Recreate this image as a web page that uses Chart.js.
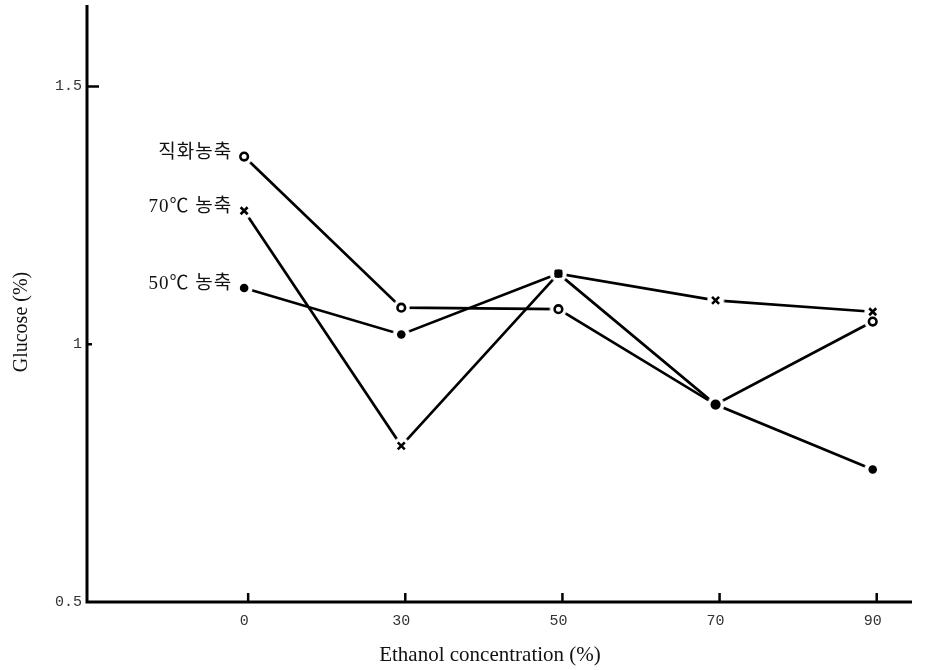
<!DOCTYPE html>
<html>
<head>
<meta charset="utf-8">
<script src="https://cdn.jsdelivr.net/npm/chart.js@4.4.1/dist/chart.umd.min.js"></script>
<style>
html,body{margin:0;padding:0;background:#fff;}
#wrap{width:929px;height:670px;position:relative;}
</style>
</head>
<body>
<div id="wrap"><canvas id="c" width="929" height="670"></canvas></div>
<script>
// ---- data ----
const categories = ['0', '30', '50', '70', '90'];
const seriesNames = ['직화농축', '70℃ 농축', '50℃ 농축'];
const directHeat = [1.364, 1.071, 1.068, 0.883, 1.044];
const conc70 = [1.259, 0.803, 1.137, 1.085, 1.063];
const conc50 = [1.109, 1.019, 1.137, 0.883, 0.757];
const yTickValues = [0.5, 1, 1.5];
const yTickLabels = ['0.5', '1', '1.5'];
const xTitle = 'Ethanol concentration (%)';
const yTitle = 'Glucose (%)';
const markerKinds = ['circle', 'cross', 'dot'];

// white halo image: lines stop short of the markers
function makeHalo() {
  const s = 18, c = document.createElement('canvas');
  c.width = s; c.height = s;
  const g = c.getContext('2d');
  g.fillStyle = '#fff';
  g.beginPath(); g.arc(s/2, s/2, 8.5, 0, Math.PI*2); g.fill();
  return c;
}
const halo = makeHalo();

function drawMarker(g, kind, x, y) {
  g.strokeStyle = '#000'; g.fillStyle = '#000';
  if (kind === 'circle') {
    g.lineWidth = 2.6;
    g.beginPath(); g.arc(x, y, 3.8, 0, Math.PI*2); g.stroke();
  } else if (kind === 'cross') {
    g.lineWidth = 2.6;
    g.beginPath();
    g.moveTo(x-3.5, y-3.5); g.lineTo(x+3.5, y+3.5);
    g.moveTo(x+3.5, y-3.5); g.lineTo(x-3.5, y+3.5);
    g.stroke();
  } else {
    g.beginPath(); g.arc(x, y, 4.3, 0, Math.PI*2); g.fill();
  }
}

const toPts = arr => arr.map((v, i) => ({x: i, y: v}));

const datasets = [
  {label: seriesNames[0], data: toPts(directHeat)},
  {label: seriesNames[1], data: toPts(conc70)},
  {label: seriesNames[2], data: toPts(conc50)}
].map(d => Object.assign(d, {
  borderColor: '#000', borderWidth: 2.7, tension: 0, fill: false,
  pointStyle: halo, pointRadius: 9, pointHoverRadius: 9
}));

const decor = {
  id: 'decor',
  afterDatasetsDraw(chart) {
    const ctx = chart.ctx;
    ctx.save();
    // markers: circle first, then dot, then cross on top
    [0, 2, 1].forEach(di => {
      chart.getDatasetMeta(di).data.forEach(pt => drawMarker(ctx, markerKinds[di], pt.x, pt.y));
    });
    ctx.restore();
  },
  afterDraw(chart) {
    const ctx = chart.ctx, xs = chart.scales.x, ys = chart.scales.y, a = chart.chartArea;
    ctx.save();
    ctx.strokeStyle = '#000';
    ctx.lineWidth = 3;
    ctx.beginPath();
    ctx.moveTo(a.left, a.top - 9); ctx.lineTo(a.left, a.bottom + 1.5);
    ctx.moveTo(a.left - 1.5, a.bottom); ctx.lineTo(a.right, a.bottom);
    ctx.stroke();
    // x ticks (upward)
    ctx.lineWidth = 2.5;
    categories.forEach((c, i) => {
      const px = xs.getPixelForValue(i) + 4;
      ctx.beginPath(); ctx.moveTo(px, a.bottom); ctx.lineTo(px, a.bottom - 9); ctx.stroke();
    });
    // y ticks (inward)
    ctx.beginPath();
    let py = ys.getPixelForValue(1.5);
    ctx.moveTo(a.left, py); ctx.lineTo(a.left + 12, py);
    py = ys.getPixelForValue(1);
    ctx.moveTo(a.left, py); ctx.lineTo(a.left + 5, py);
    ctx.stroke();

    // axis titles
    ctx.fillStyle = '#111';
    ctx.font = '21px "Liberation Serif", serif';
    ctx.textAlign = 'center';
    ctx.textBaseline = 'middle';
    ctx.fillText(xTitle, 490, 655);
    ctx.save();
    ctx.translate(22, 322);
    ctx.rotate(-Math.PI / 2);
    ctx.font = '20px "Liberation Serif", serif';
    ctx.fillText(yTitle, 0, 0);
    ctx.restore();

    // series labels at first point
    ctx.font = '19px "Liberation Serif", "Noto Sans CJK KR", serif';
    ctx.textAlign = 'right';
    if ('letterSpacing' in ctx) ctx.letterSpacing = '1px';
    chart.data.datasets.forEach(ds => {
      const x0 = xs.getPixelForValue(ds.data[0].x) - 12;
      const y0 = ys.getPixelForValue(ds.data[0].y) - 4;
      ctx.fillText(ds.label, x0, y0);
    });
    ctx.restore();
  }
};

new Chart(document.getElementById('c'), {
  type: 'line',
  data: {datasets},
  plugins: [decor],
  options: {
    responsive: false,
    animation: false,
    events: [],
    layout: {autoPadding: false, padding: {top: 5, right: 17, left: 0, bottom: 0}},
    plugins: {legend: {display: false}, tooltip: {enabled: false}},
    scales: {
      x: {
        type: 'linear',
        min: -1, max: 4.25,
        afterBuildTicks: s => { s.ticks = categories.map((c, i) => ({value: i})); },
        afterFit: s => { s.height = 68; },
        border: {display: false},
        grid: {display: false, drawTicks: false},
        ticks: {
          padding: 10,
          color: '#333',
          font: {family: '"Liberation Mono", monospace', size: 15},
          callback: v => categories[v] ?? ''
        },
        title: {display: false}
      },
      y: {
        min: 0.5, max: 1.6406,
        afterBuildTicks: s => { s.ticks = yTickValues.map(v => ({value: v})); },
        afterFit: s => { s.width = 87; },
        border: {display: false},
        grid: {display: false, drawTicks: false},
        ticks: {
          padding: 5,
          color: '#333',
          font: {family: '"Liberation Mono", monospace', size: 15},
          callback: v => yTickLabels[yTickValues.indexOf(v)] ?? ''
        },
        title: {display: false}
      }
    }
  }
});
</script>
</body>
</html>
